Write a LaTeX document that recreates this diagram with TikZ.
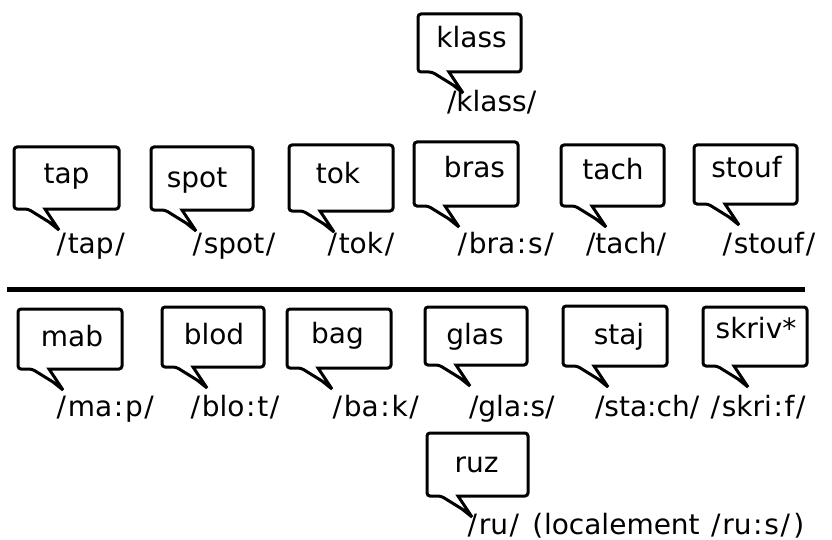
\documentclass[tikz,border=0pt]{standalone}
\usepackage{fontspec}
\setmainfont{DejaVu Sans}
\tikzset{
  bubline/.style={draw=black, line width=3pt, fill=white, miter limit=4},
  txt/.style={inner sep=0pt, outer sep=0pt, font=\fontsize{28}{34}\selectfont},
  sepline/.style={line width=4.5pt}
}
\newcommand\Sl{\kern.06em/\kern.06em}
\newcommand\Co{\kern.06em:\kern.06em}
\newcommand\bubble[5]{%
  \coordinate (#1-nw) at (#2,#3);
  \coordinate (#1-se) at (#4,#5);
  \draw[bubline] ({#2+31},#5) [rounded corners=3pt] -- (#4,#5) -- (#4,#3) -- (#2,#3) -- (#2,#5) -- ({#2+14},#5) [sharp corners] -- ({#2+35},{#5+13}) -- ({#2+45},{#5+21}) -- cycle;}
\begin{document}
\begin{tikzpicture}[x=1pt,y=-1pt]
\useasboundingbox (0,0) rectangle (832,540);
% top
\bubble{klass}{418}{14}{521}{72}
\node[txt,anchor=base] (tklass) at (471.5,48) {klass};
\node[txt,anchor=base west] (lklass) at (447,112) {/klass/};
% row 1
\bubble{tap}{14}{147}{119}{209}
\node[txt,anchor=base] (ttap) at (66.5,184) {tap};
\node[txt,anchor=base west] (ltap) at (55,253) {\Sl tap\Sl};
\bubble{spot}{151}{147}{253}{210}
\node[txt,anchor=base] (tspot) at (197,188) {spot};
\node[txt,anchor=base west] (lspot) at (191,253) {\Sl spot\Sl};
\bubble{tok}{289}{145}{393}{211}
\node[txt,anchor=base] (ttok) at (338,184) {tok};
\node[txt,anchor=base west] (ltok) at (326,253) {\Sl tok\Sl};
\bubble{bras}{414}{142}{518}{206}
\node[txt,anchor=base] (tbras) at (474.5,178) {bras};
\node[txt,anchor=base west] (lbras) at (456,253) {\Sl bra\Co s\Sl};
\bubble{tach}{561}{145}{664}{206}
\node[txt,anchor=base] (ttach) at (613,180) {tach};
\node[txt,anchor=base west] (ltach) at (586,253) {/tach/};
\bubble{stouf}{694}{145}{797}{204}
\node[txt,anchor=base] (tstouf) at (746.5,178) {stouf};
\node[txt,anchor=base west] (lstouf) at (721,253) {\Sl stouf\Sl};
% separator
\coordinate (sepl) at (7,289.5);
\coordinate (sepr) at (805,289.5);
\draw[sepline] (sepl) -- (sepr);
% row 2
\bubble{mab}{18}{309}{122}{369}
\node[txt,anchor=base] (tmab) at (72,346) {mab};
\node[txt,anchor=base west] (lmab) at (55,416) {\Sl ma\Co p\Sl};
\bubble{blod}{162}{307}{264}{367}
\node[txt,anchor=base] (tblod) at (214,344) {blod};
\node[txt,anchor=base west] (lblod) at (189,416) {\Sl blo\Co t\Sl};
\bubble{bag}{287}{309}{391}{368}
\node[txt,anchor=base] (tbag) at (337.5,343) {bag};
\node[txt,anchor=base west] (lbag) at (331,416) {\Sl ba\Co k\Sl};
\bubble{glas}{425}{307}{527}{365}
\node[txt,anchor=base] (tglas) at (475,344) {glas};
\node[txt,anchor=base west] (lglas) at (469,416) {/gla:s/};
\bubble{staj}{563}{306}{667}{366}
\node[txt,anchor=base] (tstaj) at (619,344) {staj};
\node[txt,anchor=base west] (lstaj) at (595,416) {/sta:ch/};
\bubble{skriv}{703}{307}{807}{366}
\node[txt,anchor=base] (tskriv) at (756,338) {skriv*};
\node[txt,anchor=base west] (lskriv) at (709,416) {\Sl skri\Co f\Sl};
% bottom
\bubble{ruz}{427}{433}{528}{496}
\node[txt,anchor=base] (truz) at (476.5,472) {ruz};
\node[txt,anchor=base west] (lruz) at (466,534) {\Sl ru\Sl\kern.03em{} \kern.06em(\kern.03em localement \kern.03em\Sl ru\Co s\Sl\kern.06em)};
\end{tikzpicture}
\end{document}
